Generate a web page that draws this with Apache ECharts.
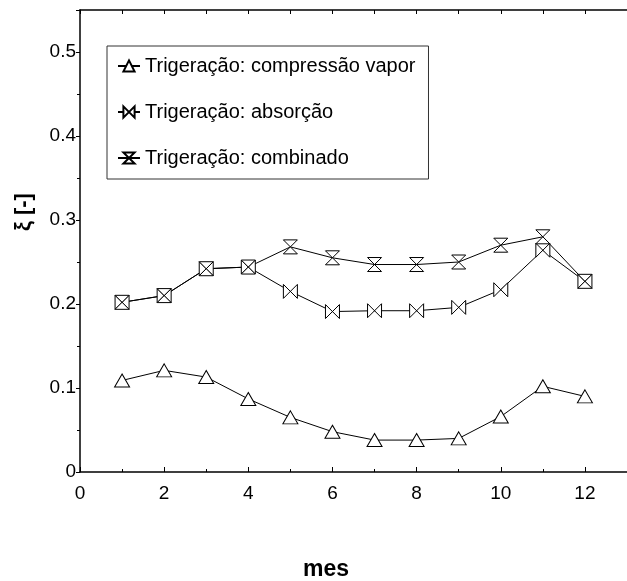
<!DOCTYPE html>
<html lang="pt">
<head>
    <meta charset="UTF-8">
    <title>Trigeração</title>
    <script src="https://cdn.jsdelivr.net/npm/echarts@6/dist/echarts.min.js"></script>
</head>
<body style="margin:0">

<div id="main" style="width:627px;height:581px"></div>

<script type="text/javascript">
    var meses = [1, 2, 3, 4, 5, 6, 7, 8, 9, 10, 11, 12];
    var compressao = [0.109, 0.121, 0.113, 0.087, 0.065, 0.048, 0.038, 0.038, 0.040, 0.066, 0.102, 0.090];
    var absorcao = [0.202, 0.210, 0.242, 0.244, 0.215, 0.191, 0.192, 0.192, 0.196, 0.217, 0.264, 0.227];
    var combinado = [0.202, 0.210, 0.242, 0.244, 0.268, 0.255, 0.247, 0.247, 0.250, 0.270, 0.280, 0.227];
    var nomes = ['Trigeração: compressão vapor', 'Trigeração: absorção', 'Trigeração: combinado'];

    var fonte = 'Liberation Sans, Arial, sans-serif';

    function pares(ys) {
        return meses.map(function (m, i) { return [m, ys[i]]; });
    }

    function serie(nome, ys, simbolo, tamanho) {
        return {
            name: nome,
            type: 'line',
            data: pares(ys),
            symbol: simbolo,
            symbolSize: tamanho,
            showAllSymbol: true,
            lineStyle: { color: '#000', width: 1 },
            itemStyle: { color: '#fff', borderColor: '#000', borderWidth: 1 },
            emphasis: { disabled: true },
            animation: false
        };
    }

    var myChart = echarts.init(document.getElementById('main'));

    var option = {
        textStyle: { fontFamily: fonte },
        grid: { left: 80, right: -10, top: 10, bottom: 109 },
        legend: {
            orient: 'vertical',
            left: 107,
            top: 46,
            padding: [10, 13, 11, 10],
            itemGap: 26,
            itemWidth: 22,
            itemHeight: 14,
            borderColor: '#333',
            borderWidth: 1,
            textStyle: { fontSize: 20, color: '#000', fontFamily: fonte },
            data: nomes
        },
        xAxis: [{
            type: 'value',
            min: 0,
            max: 13,
            interval: 2,
            axisLine: { lineStyle: { color: '#000', width: 1.5 } },
            axisTick: { inside: true, length: 5, lineStyle: { color: '#000' } },
            minorTick: { show: true, splitNumber: 2, length: 3, lineStyle: { color: '#000' } },
            splitLine: { show: false },
            axisLabel: { fontSize: 19, color: '#000', margin: 12, showMaxLabel: false }
        }, {
            type: 'value',
            position: 'top',
            min: 0,
            max: 13,
            interval: 1,
            axisLine: { lineStyle: { color: '#000', width: 1.5 } },
            axisTick: { inside: true, length: 4, lineStyle: { color: '#000' } },
            splitLine: { show: false },
            axisLabel: { show: false }
        }],
        yAxis: {
            type: 'value',
            min: 0,
            max: 0.55,
            interval: 0.1,
            axisLine: { show: true, lineStyle: { color: '#000', width: 1.5 } },
            axisTick: { show: true, inside: false, length: 4, lineStyle: { color: '#000' } },
            minorTick: { show: true, splitNumber: 2, length: 3, lineStyle: { color: '#000' } },
            splitLine: { show: false },
            axisLabel: {
                fontSize: 19, color: '#000', margin: 4, showMaxLabel: false,
                formatter: function (v) { return v === 0 ? '0' : v.toFixed(1); }
            }
        },
        graphic: [{
            type: 'text',
            x: 326,
            y: 570,
            style: { text: 'mes', font: 'bold 23px ' + fonte, fill: '#000', textAlign: 'center', textVerticalAlign: 'middle' }
        }, {
            type: 'text',
            x: 24,
            y: 212,
            rotation: Math.PI / 2,
            style: { text: 'ξ [-]', font: 'bold 22px ' + fonte, fill: '#000', textAlign: 'center', textVerticalAlign: 'middle' }
        }],
        series: [
            serie(nomes[0], compressao, 'triangle', [15, 13]),
            serie(nomes[1], absorcao, 'path://M0,0L10,10L10,0L0,10Z', [14, 14]),
            serie(nomes[2], combinado, 'path://M0,0L10,0L0,10L10,10Z', [14, 14])
        ]
    };

    myChart.setOption(option);
</script>
</body>
</html>
